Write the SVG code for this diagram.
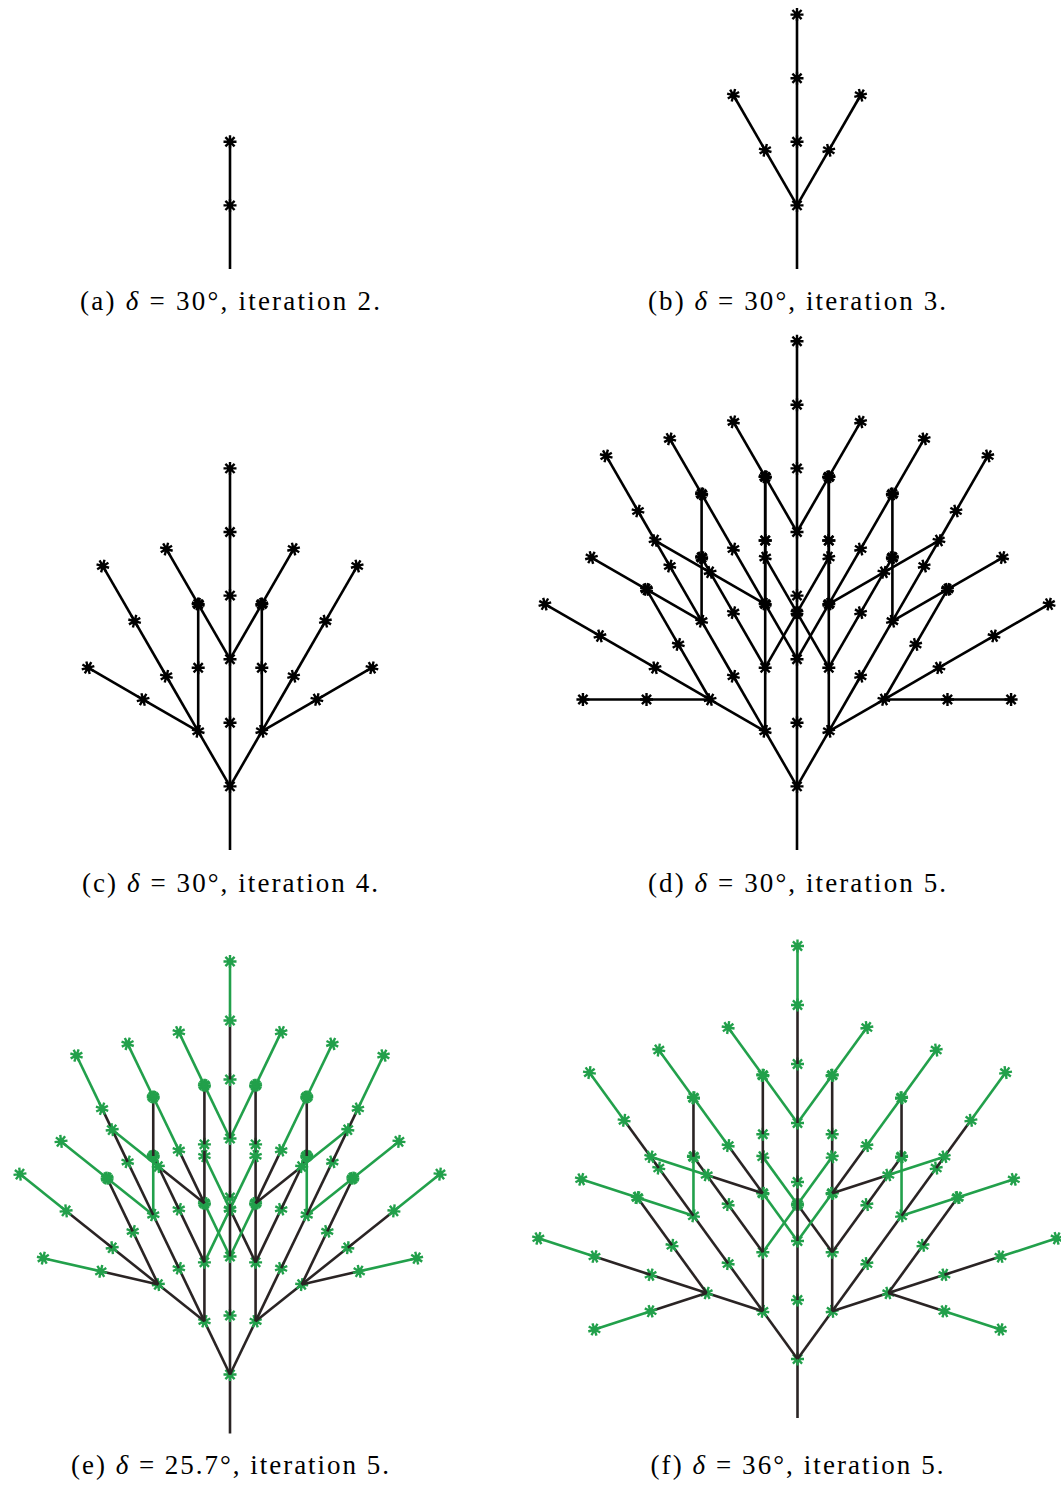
<svg xmlns="http://www.w3.org/2000/svg" width="1061" height="1485" viewBox="0 0 1061 1485">
<style>
.k{stroke:#000;stroke-width:2.6;fill:none}
.mk{stroke:#000;stroke-width:2.4;fill:#000}
.b{stroke:#2a2424;stroke-width:2.6}
.g{stroke:#22a04b;stroke-width:2.6}
.mg{stroke:#22a04b;stroke-width:2.4;fill:#22a04b}
text{font-family:"Liberation Serif","Times New Roman",serif;font-size:27px;fill:#000}
</style>
<defs>
<g id="am"><path d="M-6.5,0H6.5M0,-6.5V6.5M-4.6,-4.6L4.6,4.6M-4.6,4.6L4.6,-4.6"/><circle r="1.8"/></g>
<g id="K"><line class="k" x1="0" y1="0" x2="0" y2="-63.6"/><use href="#am" class="mk" y="-63.6"/></g>
<g id="A1"><use href="#K"/><use href="#K" y="-63.6"/></g>
<g id="A2"><use href="#K"/><use href="#A1" transform="translate(0,-63.6) rotate(30)"/><use href="#A1" transform="translate(0,-63.6) rotate(-30)"/><use href="#K" y="-63.6"/><use href="#A1" y="-127.2"/></g>
<g id="A3"><use href="#K"/><use href="#A2" transform="translate(0,-63.6) rotate(30)"/><use href="#A2" transform="translate(0,-63.6) rotate(-30)"/><use href="#K" y="-63.6"/><use href="#A2" y="-127.2"/></g>
<g id="A4"><use href="#K"/><use href="#A3" transform="translate(0,-63.6) rotate(30)"/><use href="#A3" transform="translate(0,-63.6) rotate(-30)"/><use href="#K" y="-63.6"/><use href="#A3" y="-127.2"/></g>
<g id="Fb"><line class="b" x1="0" y1="0" x2="0" y2="-59"/><use href="#am" class="mg" y="-59"/></g>
<g id="Fg"><line class="g" x1="0" y1="0" x2="0" y2="-59"/><use href="#am" class="mg" y="-59"/></g>
<g id="BG"><use href="#Fb"/><use href="#Fg" y="-59"/></g>
<g id="BB"><use href="#Fb"/><use href="#Fb" y="-59"/></g>
<g id="GG"><use href="#Fg"/><use href="#Fg" y="-59"/></g>
<g id="GB"><use href="#Fg"/><use href="#Fb" y="-59"/></g>
</defs>

<g id="panel-a"><use href="#A1" transform="translate(230,269)"/>
<text x="230" y="310" text-anchor="middle" textLength="300" lengthAdjust="spacing">(a) <tspan font-style="italic">δ</tspan> = 30°, iteration 2.</text></g>

<g id="panel-b"><use href="#A2" transform="translate(797,269)"/>
<text x="797" y="310" text-anchor="middle" textLength="298" lengthAdjust="spacing">(b) <tspan font-style="italic">δ</tspan> = 30°, iteration 3.</text></g>

<g id="panel-c"><use href="#A3" transform="translate(230,850)"/>
<text x="230" y="892" text-anchor="middle" textLength="296" lengthAdjust="spacing">(c) <tspan font-style="italic">δ</tspan> = 30°, iteration 4.</text></g>

<g id="panel-d"><use href="#A4" transform="translate(797,850)"/>
<text x="797" y="892" text-anchor="middle" textLength="298" lengthAdjust="spacing">(d) <tspan font-style="italic">δ</tspan> = 30°, iteration 5.</text></g>

<g id="panel-e">
<g transform="translate(230,1433.5)">
 <use href="#Fb"/>
 <g transform="translate(0,-59) rotate(25.7)">
  <use href="#Fb"/>
  <g transform="translate(0,-59) rotate(25.7)">
   <use href="#Fb"/>
   <use href="#BG" transform="translate(0,-59) rotate(25.7)"/>
   <use href="#BB" transform="translate(0,-59) rotate(-25.7)"/>
   <use href="#Fb" y="-59"/>
   <use href="#BG" y="-118"/>
  </g>
  <g transform="translate(0,-59) rotate(-25.7)">
   <use href="#Fb"/>
   <use href="#BB" transform="translate(0,-59) rotate(25.7)"/>
   <use href="#BG" transform="translate(0,-59) rotate(-25.7)"/>
   <use href="#Fb" y="-59"/>
   <use href="#BB" y="-118"/>
  </g>
  <use href="#Fb" y="-59"/>
  <g transform="translate(0,-118)">
   <use href="#Fb"/>
   <use href="#GG" transform="translate(0,-59) rotate(25.7)"/>
   <use href="#GB" transform="translate(0,-59) rotate(-25.7)"/>
   <use href="#Fb" y="-59"/>
   <use href="#BG" y="-118"/>
  </g>
 </g>
 <g transform="translate(0,-59) rotate(-25.7)">
  <use href="#Fb"/>
  <g transform="translate(0,-59) rotate(25.7)">
   <use href="#Fb"/>
   <use href="#GG" transform="translate(0,-59) rotate(25.7)"/>
   <use href="#BB" transform="translate(0,-59) rotate(-25.7)"/>
   <use href="#Fb" y="-59"/>
   <use href="#BB" y="-118"/>
  </g>
  <g transform="translate(0,-59) rotate(-25.7)">
   <use href="#Fb"/>
   <use href="#BB" transform="translate(0,-59) rotate(25.7)"/>
   <use href="#BG" transform="translate(0,-59) rotate(-25.7)"/>
   <use href="#Fb" y="-59"/>
   <use href="#BG" y="-118"/>
  </g>
  <use href="#Fb" y="-59"/>
  <g transform="translate(0,-118)">
   <use href="#Fb"/>
   <use href="#GB" transform="translate(0,-59) rotate(25.7)"/>
   <use href="#GG" transform="translate(0,-59) rotate(-25.7)"/>
   <use href="#Fb" y="-59"/>
   <use href="#BG" y="-118"/>
  </g>
 </g>
 <use href="#Fb" y="-59"/>
 <g transform="translate(0,-118)">
  <use href="#Fb"/>
  <g transform="translate(0,-59) rotate(25.7)">
   <use href="#Fg"/>
   <use href="#BG" transform="translate(0,-59) rotate(25.7)"/>
   <use href="#Fb" y="-59"/>
   <use href="#GG" y="-118"/>
  </g>
  <g transform="translate(0,-59) rotate(-25.7)">
   <use href="#Fg"/>
   <use href="#BG" transform="translate(0,-59) rotate(-25.7)"/>
   <use href="#Fb" y="-59"/>
   <use href="#GG" y="-118"/>
  </g>
  <use href="#Fb" y="-59"/>
  <g transform="translate(0,-118)">
   <use href="#Fb"/>
   <use href="#GG" transform="translate(0,-59) rotate(25.7)"/>
   <use href="#GG" transform="translate(0,-59) rotate(-25.7)"/>
   <use href="#Fb" y="-59"/>
   <use href="#BG" y="-118"/>
  </g>
 </g>
</g>
<text x="230" y="1474" text-anchor="middle" textLength="318" lengthAdjust="spacing">(e) <tspan font-style="italic">δ</tspan> = 25.7°, iteration 5.</text>
</g>

<g id="panel-f">
<g transform="translate(797.5,1418)">
 <use href="#Fb"/>
 <g transform="translate(0,-59) rotate(36)">
  <use href="#Fb"/>
  <g transform="translate(0,-59) rotate(36)">
   <use href="#Fb"/>
   <use href="#BG" transform="translate(0,-59) rotate(36)"/>
   <use href="#BB" transform="translate(0,-59) rotate(-36)"/>
   <use href="#Fb" y="-59"/>
   <use href="#BG" y="-118"/>
  </g>
  <g transform="translate(0,-59) rotate(-36)">
   <use href="#Fb"/>
   <use href="#BB" transform="translate(0,-59) rotate(36)"/>
   <use href="#BG" transform="translate(0,-59) rotate(-36)"/>
   <use href="#Fb" y="-59"/>
   <use href="#BB" y="-118"/>
  </g>
  <use href="#Fb" y="-59"/>
  <g transform="translate(0,-118)">
   <use href="#Fb"/>
   <use href="#GG" transform="translate(0,-59) rotate(36)"/>
   <use href="#GB" transform="translate(0,-59) rotate(-36)"/>
   <use href="#Fb" y="-59"/>
   <use href="#BG" y="-118"/>
  </g>
 </g>
 <g transform="translate(0,-59) rotate(-36)">
  <use href="#Fb"/>
  <g transform="translate(0,-59) rotate(36)">
   <use href="#Fb"/>
   <use href="#GG" transform="translate(0,-59) rotate(36)"/>
   <use href="#BB" transform="translate(0,-59) rotate(-36)"/>
   <use href="#Fb" y="-59"/>
   <use href="#BB" y="-118"/>
  </g>
  <g transform="translate(0,-59) rotate(-36)">
   <use href="#Fb"/>
   <use href="#BB" transform="translate(0,-59) rotate(36)"/>
   <use href="#BG" transform="translate(0,-59) rotate(-36)"/>
   <use href="#Fb" y="-59"/>
   <use href="#BG" y="-118"/>
  </g>
  <use href="#Fb" y="-59"/>
  <g transform="translate(0,-118)">
   <use href="#Fb"/>
   <use href="#GB" transform="translate(0,-59) rotate(36)"/>
   <use href="#GG" transform="translate(0,-59) rotate(-36)"/>
   <use href="#Fb" y="-59"/>
   <use href="#BG" y="-118"/>
  </g>
 </g>
 <use href="#Fb" y="-59"/>
 <g transform="translate(0,-118)">
  <use href="#Fb"/>
  <g transform="translate(0,-59) rotate(36)">
   <use href="#Fg"/>
   <use href="#BG" transform="translate(0,-59) rotate(36)"/>
   <use href="#Fb" y="-59"/>
   <use href="#GG" y="-118"/>
  </g>
  <g transform="translate(0,-59) rotate(-36)">
   <use href="#Fg"/>
   <use href="#BG" transform="translate(0,-59) rotate(-36)"/>
   <use href="#Fb" y="-59"/>
   <use href="#GG" y="-118"/>
  </g>
  <use href="#Fb" y="-59"/>
  <g transform="translate(0,-118)">
   <use href="#Fb"/>
   <use href="#GG" transform="translate(0,-59) rotate(36)"/>
   <use href="#GG" transform="translate(0,-59) rotate(-36)"/>
   <use href="#Fb" y="-59"/>
   <use href="#BG" y="-118"/>
  </g>
 </g>
</g>
<text x="797" y="1474" text-anchor="middle" textLength="293" lengthAdjust="spacing">(f) <tspan font-style="italic">δ</tspan> = 36°, iteration 5.</text>
</g>
</svg>
